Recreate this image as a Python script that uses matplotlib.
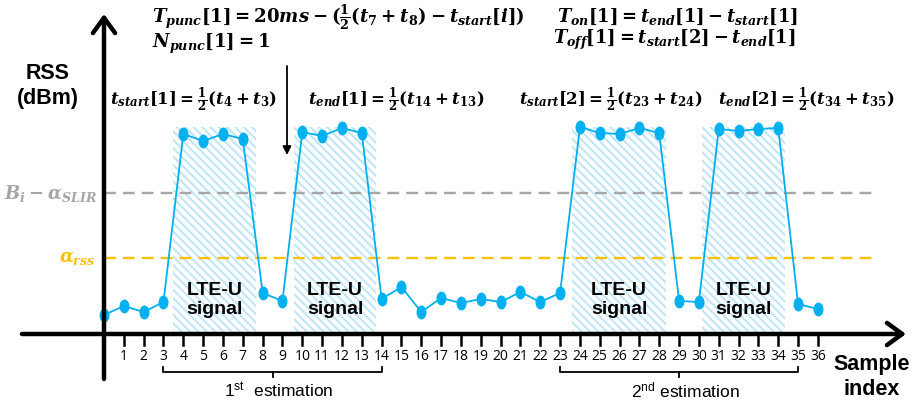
import matplotlib.pyplot as plt
from matplotlib.path import Path
from matplotlib.markers import MarkerStyle

plt.rcParams['mathtext.fontset'] = 'custom'
plt.rcParams['mathtext.it'] = 'DejaVu Serif:bold:italic'
plt.rcParams['mathtext.rm'] = 'DejaVu Serif:bold'
plt.rcParams['mathtext.bf'] = 'DejaVu Serif:bold'
plt.rcParams['mathtext.sf'] = 'Liberation Sans'
plt.rcParams['hatch.linewidth'] = 1.4

# data (RSS in arbitrary units above the x axis)
sample = list(range(37))
rss = [19, 28, 22, 32, 200, 193, 200, 195, 41, 33,
       202, 198, 206, 201, 35, 47, 22, 36, 31, 35,
       32, 42, 32, 41, 207, 201, 200, 206, 201, 33,
       32, 205, 203, 205, 206, 30, 25]
thr_slir = 141
thr_rss = 76
lte_spans = [(3.5, 7.65), (9.6, 13.7), (23.6, 28.35), (30.15, 34.35)]
lte_top = 207
estimations = [(3, 14, '1$^{\\mathsf{st}}$  estimation'),
               (23, 35, '2$^{\\mathsf{nd}}$ estimation')]

BLUE = '#00B0F0'
HATCH = '#BDE5F8'
GRAY = '#A6A6A6'
ORANGE = '#FFC000'

# pixel -> data helper (axes fills whole figure)
PX, X0, Y0 = 19.83, 104, 334
def P(x, y):
    return ((x - X0) / PX, Y0 - y)

fig = plt.figure(figsize=(9.16, 4.05), dpi=100)
ax = fig.add_axes([0, 0, 1, 1])
ax.set_xlim(P(0, 0)[0], P(916, 0)[0])
ax.set_ylim(Y0 - 405, Y0)
ax.axis('off')

# hatched LTE-U regions
for a, b in lte_spans:
    ax.fill_between([a, b], 0, lte_top, facecolor='none', edgecolor=HATCH,
                    hatch='\\\\\\\\', linewidth=0, zorder=1)
    ax.text((a + b) / 2, 34, 'LTE-U\nsignal', ha='center', va='center',
            fontsize=14, fontweight='bold', family='Liberation Sans',
            linespacing=1.15, zorder=3)

# thresholds
ax.plot([0, P(876, 0)[0]], [thr_slir, thr_slir], color=GRAY, lw=1.7,
        dashes=(5, 3), zorder=2)
ax.plot([0, P(876, 0)[0]], [thr_rss, thr_rss], color=ORANGE, lw=1.7,
        dashes=(5, 3), zorder=2)

# RSS samples
ell = Path.unit_circle()
ell = Path(ell.vertices * [0.72, 1.0], ell.codes)
ax.plot(sample, rss, color=BLUE, lw=1.3, marker=MarkerStyle(ell),
        markersize=10, markeredgewidth=0, zorder=4)

# axes arrows
ax.annotate('', xy=P(906, 334), xytext=P(22, 334),
            arrowprops=dict(arrowstyle='->,head_length=1.1,head_width=0.8',
                            lw=3.2, color='black', shrinkA=0, shrinkB=0), zorder=5)
ax.annotate('', xy=P(104, 14), xytext=P(104, 379),
            arrowprops=dict(arrowstyle='->,head_length=1.1,head_width=0.8',
                            lw=3.2, color='black', shrinkA=0, shrinkB=0), zorder=5)

# ticks
for i in sample[1:]:
    ax.plot([i, i], [0, -11], color='black', lw=1.8, zorder=5)
    ax.text(i, -23, str(i), ha='center', va='center', fontsize=10,
            family='Open Sans')

# braces
for a, b, lab in estimations:
    m = (a + b) / 2
    ax.plot([a, a, b, b], [-33, -38, -38, -33], color='black', lw=1.3)
    ax.plot([m, m], [-38, -43], color='black', lw=1.3)
    ax.text(m + 0.3, -56, lab, ha='center', va='center', fontsize=12.5,
            family='Liberation Sans')

# axis labels
ax.text(*P(48, 86), 'RSS\n(dBm)', ha='center', va='center', fontsize=15.5,
        fontweight='bold', family='Liberation Sans', linespacing=1.2)
ax.text(*P(872, 377), 'Sample\nindex', ha='center', va='center', fontsize=15.5,
        fontweight='bold', family='Liberation Sans', linespacing=1.2)
ax.text(*P(97, 193), r'$B_i-\alpha_{SLIR}$', ha='right', va='center',
        fontsize=13, color=GRAY)
ax.text(*P(95, 258), r'$\alpha_{rss}$', ha='right', va='center',
        fontsize=13, color=ORANGE)

# formulas
ax.text(*P(152, 17), r'$T_{punc}[1]=20ms-(\frac{1}{2}(t_7+t_8)-t_{start}[i])$',
        ha='left', va='center', fontsize=13.1)
ax.text(*P(152, 44), r'$N_{punc}[1]=1$', ha='left', va='center', fontsize=13.1)
ax.text(*P(557, 17), r'$T_{on}[1]=t_{end}[1]-t_{start}[1]$',
        ha='left', va='center', fontsize=12.9)
ax.text(*P(553, 40), r'$T_{off}[1]=t_{start}[2]-t_{end}[1]$',
        ha='left', va='center', fontsize=12.9)
ax.text(*P(110, 100), r'$t_{start}[1]=\frac{1}{2}(t_4+t_3)$',
        ha='left', va='center', fontsize=12)
ax.text(*P(308, 100), r'$t_{end}[1]=\frac{1}{2}(t_{14}+t_{13})$',
        ha='left', va='center', fontsize=12)
ax.text(*P(519, 100), r'$t_{start}[2]=\frac{1}{2}(t_{23}+t_{24})$',
        ha='left', va='center', fontsize=12)
ax.text(*P(718, 100), r'$t_{end}[2]=\frac{1}{2}(t_{34}+t_{35})$',
        ha='left', va='center', fontsize=12)

# punctured-sample arrow
ax.annotate('', xy=P(287, 155), xytext=P(287, 66),
            arrowprops=dict(arrowstyle='-|>,head_length=0.5,head_width=0.25',
                            lw=1.3, color='black', shrinkA=0, shrinkB=0))

fig.savefig('out.png', dpi=100)
